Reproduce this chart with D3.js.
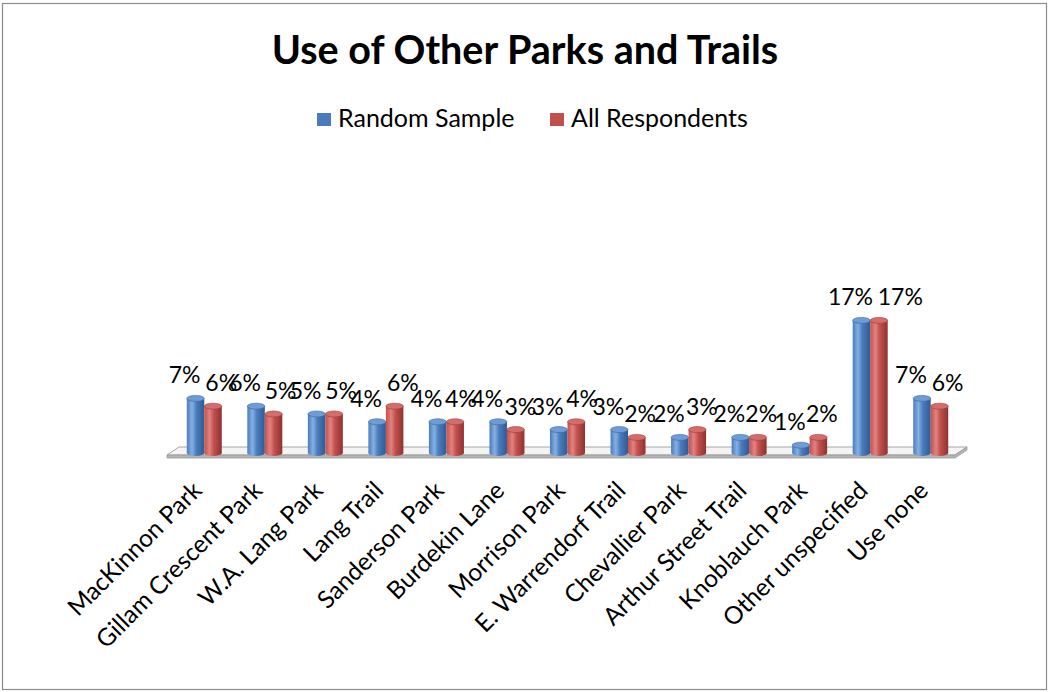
<!DOCTYPE html>
<html>
<head>
<meta charset="utf-8">
<script src="https://cdn.jsdelivr.net/npm/d3@7"></script>
<style>
  html, body { margin: 0; padding: 0; background: #fff; }
  svg { display: block; }
  text { font-family: Lato, "Open Sans", sans-serif; fill: #000; }
</style>
</head>
<body>
<div id="chart"></div>
<script>
// Survey results: share of respondents using each park or trail
const categories = [
  "MacKinnon Park", "Gillam Crescent Park", "W.A. Lang Park", "Lang Trail",
  "Sanderson Park", "Burdekin Lane", "Morrison Park", "E. Warrendorf Trail",
  "Chevallier Park", "Arthur Street Trail", "Knoblauch Park",
  "Other unspecified", "Use none"
];
const seriesNames = ["Random Sample", "All Respondents"];
const randomSample   = [7, 6, 5, 4, 4, 4, 3, 3, 2, 2, 1, 17, 7];
const allRespondents = [6, 5, 5, 6, 4, 3, 4, 2, 3, 2, 2, 17, 6];
const seriesValues = [randomSample, allRespondents];

const W = 1050, H = 692;
const svg = d3.select("#chart").append("svg")
  .attr("width", W).attr("height", H);

// chart frame
svg.append("rect")
  .attr("x", 2.5).attr("y", 3.5).attr("width", W - 6).attr("height", H - 6)
  .attr("fill", "#fff").attr("stroke", "#8c8c8c").attr("stroke-width", 1.2);

// cylinder shading per series
const palettes = [
  { dark: "#2f5b93", mid: "#4a7cbc", light: "#86b0e2", top: "#6e9cd6", edge: "#3a679f" },
  { dark: "#8f3230", mid: "#c0504d", light: "#e3827f", top: "#d46c69", edge: "#9e3b39" }
];
const defs = svg.append("defs");
palettes.forEach((p, i) => {
  const g = defs.append("linearGradient").attr("id", "cyl" + i)
    .attr("x1", 0).attr("x2", 1).attr("y1", 0).attr("y2", 0);
  [[0, p.mid], [0.3, p.light], [0.55, p.mid], [1, p.dark]].forEach(([o, c]) =>
    g.append("stop").attr("offset", o).attr("stop-color", c));
});

// scales
const x0 = d3.scaleBand().domain(categories).range([174, 961]).padding(0);
const x1 = d3.scaleBand().domain(seriesNames).range([0, x0.bandwidth()])
  .paddingInner(0).paddingOuter(0.73);
const y = d3.scaleLinear().domain([0, 20]).range([453, 297]);

// title
svg.append("text")
  .attr("x", W / 2).attr("y", 64).attr("text-anchor", "middle")
  .style("font-weight", "bold").style("font-size", "39.5px")
  .text("Use of Other Parks and Trails");

// legend
const legendX = [317, 550];
seriesNames.forEach((name, i) => {
  svg.append("rect").attr("x", legendX[i]).attr("y", 113)
    .attr("width", 14).attr("height", 13).attr("fill", palettes[i].mid);
  svg.append("text").attr("x", legendX[i] + 21).attr("y", 127)
    .style("font-size", "25px").text(name);
});

// floor slab (oblique projection: back edge shifted right and up)
const [r0, r1] = x0.range();
const fl = r0 - 7, fr = r1 - 6, shift = 12;
const yBack = y(0) - 6, yFront = y(0) + 2, thick = 3;
svg.append("path")
  .attr("d", `M${fl},${yFront} L${fl + shift},${yBack} L${fr + shift},${yBack} L${fr},${yFront} Z`)
  .attr("fill", "#f4f4f4").attr("stroke", "#a6a6a6").attr("stroke-width", 1);
svg.append("path")
  .attr("d", `M${fl},${yFront} L${fr},${yFront} L${fr + shift},${yBack} L${fr + shift},${yBack + thick} L${fr},${yFront + thick} L${fl},${yFront + thick} Z`)
  .attr("fill", "#b4b4b4").attr("stroke", "#9a9a9a").attr("stroke-width", 0.8);

// cylinders
const bw = x1.bandwidth();
const ry = 3;
const cells = [];
categories.forEach((c, ci) => seriesNames.forEach((s, si) =>
  cells.push({ c, s, si, v: seriesValues[si][ci] })));
const cxOf = d => x0(d.c) + x1(d.s) + bw / 2;

const bars = svg.append("g").selectAll("g").data(cells).join("g");
bars.append("ellipse")
  .attr("cx", cxOf).attr("cy", y(0))
  .attr("rx", bw / 2).attr("ry", ry)
  .attr("fill", d => `url(#cyl${d.si})`);
bars.append("rect")
  .attr("x", d => x0(d.c) + x1(d.s)).attr("width", bw)
  .attr("y", d => y(d.v)).attr("height", d => y(0) - y(d.v))
  .attr("fill", d => `url(#cyl${d.si})`);
bars.append("ellipse")
  .attr("cx", cxOf).attr("cy", d => y(d.v))
  .attr("rx", bw / 2).attr("ry", ry)
  .attr("fill", d => palettes[d.si].top)
  .attr("stroke", d => palettes[d.si].edge).attr("stroke-width", 0.6);

// value labels, pushed apart left/right of each pair as in a 3-D view
svg.append("g").selectAll("text").data(cells).join("text")
  .attr("x", d => {
    const cx = cxOf(d);
    return d.si === 0 ? cx - 11 : cx + 1 + d.v * 1.2;
  })
  .attr("y", d => y(d.v) - 15)
  .attr("text-anchor", "middle")
  .style("font-size", "23px")
  .text(d => d.v + "%");

// category axis with slanted labels
const axis = svg.append("g").attr("transform", `translate(0, ${y(0) + 39})`)
  .call(d3.axisBottom(x0).tickSize(0));
axis.select(".domain").remove();
axis.selectAll("text")
  .attr("x", 0).attr("y", 0).attr("dy", 0)
  .attr("transform", "translate(-1, 0) rotate(-45)")
  .style("text-anchor", "end")
  .style("font-family", "Lato, 'Open Sans', sans-serif")
  .style("font-size", "24.5px")
  .attr("fill", "#000");
</script>
</body>
</html>
